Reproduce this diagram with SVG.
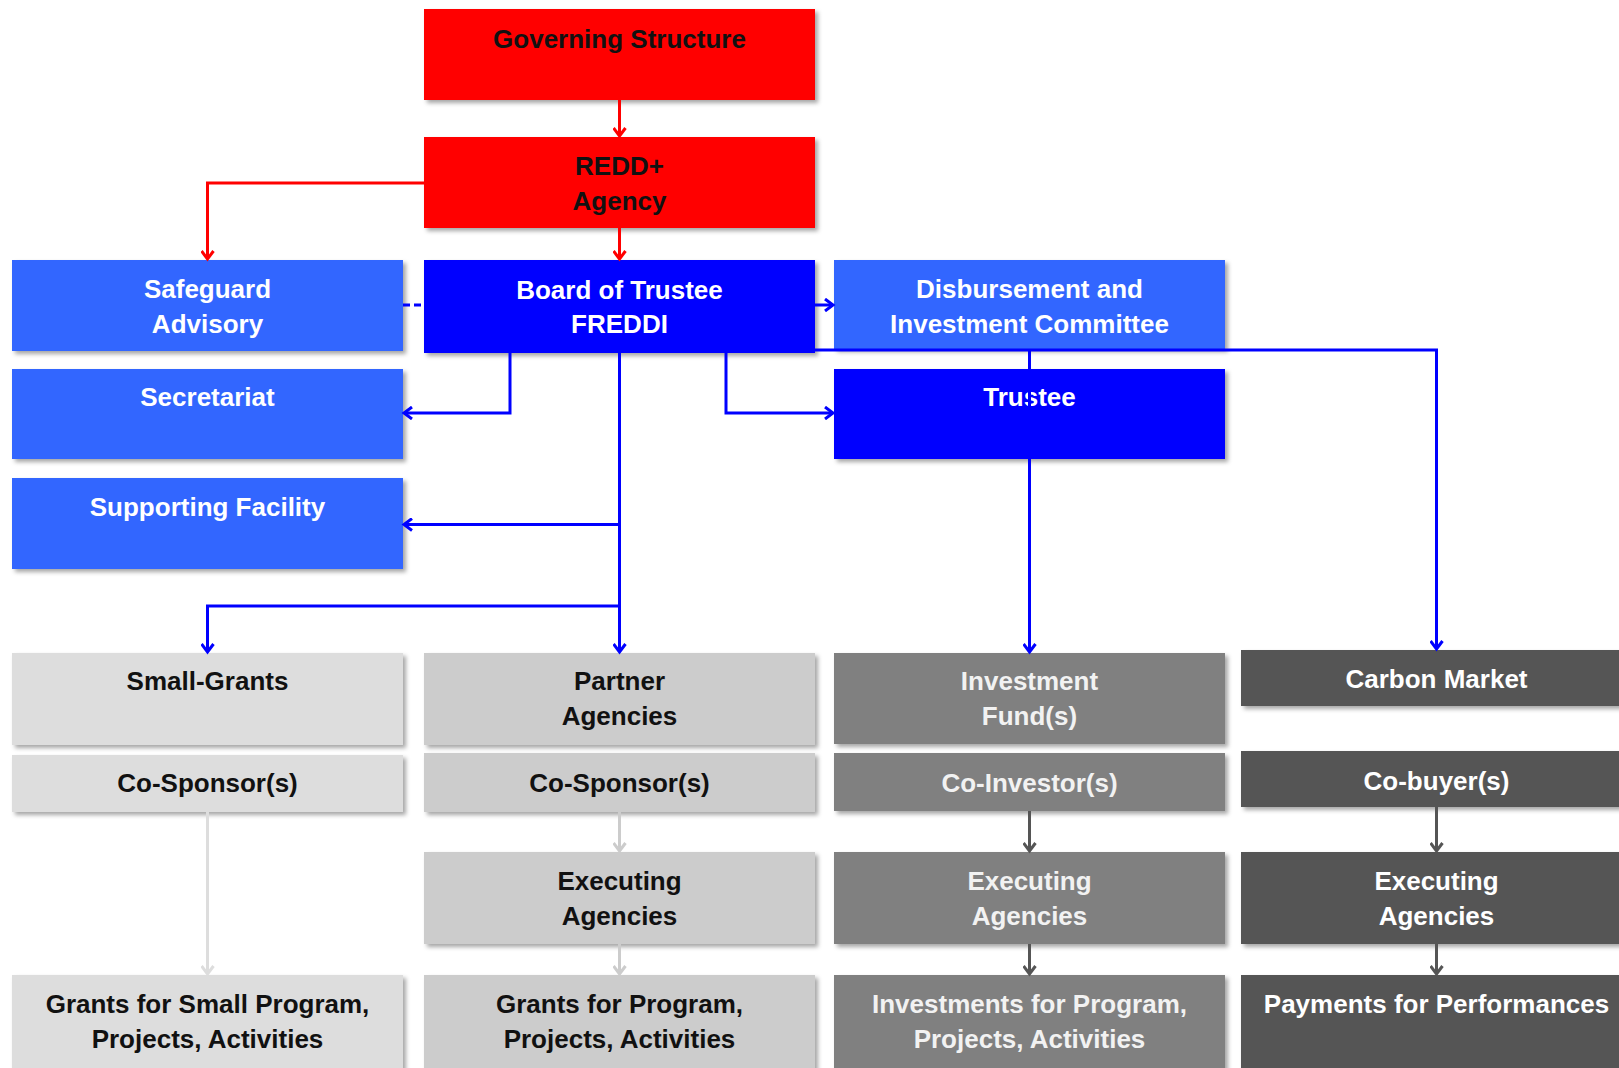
<svg xmlns="http://www.w3.org/2000/svg" width="1619" height="1068" viewBox="0 0 1619 1068">
<style>
  text { font-family: "Liberation Sans", Arial, sans-serif; font-weight: bold; font-size: 26px; text-anchor: middle; }
  .red { fill: #FF0000; }
  .lb { fill: #3366FF; }
  .db { fill: #0000FF; }
  .g1 { fill: #DDDDDD; }
  .g2 { fill: #CCCCCC; }
  .g3 { fill: #808080; }
  .g4 { fill: #555555; }
  .tb { fill: #111111; }
  .tw { fill: #FFFFFF; }
  .tl { fill: #F2F2F2; }
  .c { fill: none; stroke-width: 3; }
  .cr { stroke: #FF0000; marker-end: url(#ar); }
  .cb { stroke: #0000FF; marker-end: url(#ab); }
  .cg1 { stroke: #DDDDDD; marker-end: url(#ag1); }
  .cg2 { stroke: #CCCCCC; marker-end: url(#ag2); }
  .cg4 { stroke: #555555; marker-end: url(#ag4); }
</style>
<defs>
  <filter id="sh" x="-5%" y="-5%" width="115%" height="125%">
    <feDropShadow dx="3" dy="3" stdDeviation="2" flood-color="#000" flood-opacity="0.35"/>
  </filter>
  <marker id="ar" markerUnits="userSpaceOnUse" markerWidth="14" markerHeight="14" refX="10" refY="7" orient="auto"><path d="M2,1 L10,7 L2,13" fill="none" stroke="#FF0000" stroke-width="3"/></marker>
  <marker id="ab" markerUnits="userSpaceOnUse" markerWidth="14" markerHeight="14" refX="10" refY="7" orient="auto"><path d="M2,1 L10,7 L2,13" fill="none" stroke="#0000FF" stroke-width="3"/></marker>
  <marker id="ag1" markerUnits="userSpaceOnUse" markerWidth="14" markerHeight="14" refX="10" refY="7" orient="auto"><path d="M2,1 L10,7 L2,13" fill="none" stroke="#DDDDDD" stroke-width="3"/></marker>
  <marker id="ag2" markerUnits="userSpaceOnUse" markerWidth="14" markerHeight="14" refX="10" refY="7" orient="auto"><path d="M2,1 L10,7 L2,13" fill="none" stroke="#CCCCCC" stroke-width="3"/></marker>
  <marker id="ag4" markerUnits="userSpaceOnUse" markerWidth="14" markerHeight="14" refX="10" refY="7" orient="auto"><path d="M2,1 L10,7 L2,13" fill="none" stroke="#555555" stroke-width="3"/></marker>
</defs>
<rect width="1619" height="1068" fill="#FFFFFF"/>

<g id="governing"><rect class="red" x="424" y="9" width="391" height="91" filter="url(#sh)"/><text class="tb" x="619.5" y="48">Governing Structure</text></g>
<g id="redd"><rect class="red" x="424" y="137" width="391" height="91" filter="url(#sh)"/><text class="tb" x="619.5" y="175">REDD+</text><text class="tb" x="619.5" y="210">Agency</text></g>
<g id="safeguard"><rect class="lb" x="12" y="260" width="391" height="91" filter="url(#sh)"/><text class="tw" x="207.5" y="298">Safeguard</text><text class="tw" x="207.5" y="333">Advisory</text></g>
<g id="board"><rect class="db" x="424" y="260" width="391" height="93" filter="url(#sh)"/><text class="tw" x="619.5" y="299">Board of Trustee</text><text class="tw" x="619.5" y="333">FREDDI</text></g>
<g id="disbursement"><rect class="lb" x="834" y="260" width="391" height="89" filter="url(#sh)"/><text class="tw" x="1029.5" y="298">Disbursement and</text><text class="tw" x="1029.5" y="333">Investment Committee</text></g>
<g id="secretariat"><rect class="lb" x="12" y="369" width="391" height="90" filter="url(#sh)"/><text class="tw" x="207.5" y="406">Secretariat</text></g>
<g id="trustee"><rect class="db" x="834" y="369" width="391" height="90" filter="url(#sh)"/><text class="tw" x="1029.5" y="406">Trustee</text></g>
<g id="supporting"><rect class="lb" x="12" y="478" width="391" height="91" filter="url(#sh)"/><text class="tw" x="207.5" y="516">Supporting Facility</text></g>

<g id="small-grants"><rect class="g1" x="12" y="653" width="391" height="92" filter="url(#sh)"/><text class="tb" x="207.5" y="690">Small-Grants</text></g>
<g id="partner"><rect class="g2" x="424" y="653" width="391" height="92" filter="url(#sh)"/><text class="tb" x="619.5" y="690">Partner</text><text class="tb" x="619.5" y="725">Agencies</text></g>
<g id="investment-fund"><rect class="g3" x="834" y="653" width="391" height="91" filter="url(#sh)"/><text class="tl" x="1029.5" y="690">Investment</text><text class="tl" x="1029.5" y="725">Fund(s)</text></g>
<g id="carbon-market"><rect class="g4" x="1241" y="650" width="391" height="56" filter="url(#sh)"/><text class="tw" x="1436.5" y="688">Carbon Market</text></g>

<g id="cosponsor-1"><rect class="g1" x="12" y="755" width="391" height="57" filter="url(#sh)"/><text class="tb" x="207.5" y="792">Co-Sponsor(s)</text></g>
<g id="cosponsor-2"><rect class="g2" x="424" y="753" width="391" height="59" filter="url(#sh)"/><text class="tb" x="619.5" y="792">Co-Sponsor(s)</text></g>
<g id="coinvestor"><rect class="g3" x="834" y="753" width="391" height="58" filter="url(#sh)"/><text class="tl" x="1029.5" y="792">Co-Investor(s)</text></g>
<g id="cobuyer"><rect class="g4" x="1241" y="751" width="391" height="56" filter="url(#sh)"/><text class="tw" x="1436.5" y="790">Co-buyer(s)</text></g>

<g id="executing-2"><rect class="g2" x="424" y="852" width="391" height="92" filter="url(#sh)"/><text class="tb" x="619.5" y="890">Executing</text><text class="tb" x="619.5" y="925">Agencies</text></g>
<g id="executing-3"><rect class="g3" x="834" y="852" width="391" height="92" filter="url(#sh)"/><text class="tl" x="1029.5" y="890">Executing</text><text class="tl" x="1029.5" y="925">Agencies</text></g>
<g id="executing-4"><rect class="g4" x="1241" y="852" width="391" height="92" filter="url(#sh)"/><text class="tw" x="1436.5" y="890">Executing</text><text class="tw" x="1436.5" y="925">Agencies</text></g>

<g id="grants-small"><rect class="g1" x="12" y="975" width="391" height="95" filter="url(#sh)"/><text class="tb" x="207.5" y="1013">Grants for Small Program,</text><text class="tb" x="207.5" y="1048">Projects, Activities</text></g>
<g id="grants"><rect class="g2" x="424" y="975" width="391" height="95" filter="url(#sh)"/><text class="tb" x="619.5" y="1013">Grants for Program,</text><text class="tb" x="619.5" y="1048">Projects, Activities</text></g>
<g id="investments"><rect class="g3" x="834" y="975" width="391" height="95" filter="url(#sh)"/><text class="tl" x="1029.5" y="1013">Investments for Program,</text><text class="tl" x="1029.5" y="1048">Projects, Activities</text></g>
<g id="payments"><rect class="g4" x="1241" y="975" width="391" height="95" filter="url(#sh)"/><text class="tw" x="1436.5" y="1013">Payments for Performances</text></g>

<g id="connectors">
  <path class="c cr" d="M619.5,100 V136"/>
  <path class="c cr" d="M424,183 H207.5 V259"/>
  <path class="c cr" d="M619.5,228 V259"/>
  <path d="M403,305 H424" fill="none" stroke="#0000FF" stroke-width="3" stroke-dasharray="7,4"/>
  <path class="c cb" d="M815,305 H833"/>
  <path class="c cb" d="M510,353 V413 H404"/>
  <path class="c cb" d="M726,353 V413 H833"/>
  <path class="c cb" d="M619.5,353 V652"/>
  <path class="c cb" d="M619.5,524.5 H404"/>
  <path class="c cb" d="M619.5,606 H207.5 V652"/>
  <path class="c cb" d="M815,350 H1436.5 V649"/>
  <path class="c cb" d="M1029.5,350 V652"/>
  <path class="c cg1" d="M207.5,812 V974"/>
  <path class="c cg2" d="M619.5,812 V851"/>
  <path class="c cg2" d="M619.5,944 V974"/>
  <path class="c cg4" d="M1029.5,811 V851"/>
  <path class="c cg4" d="M1029.5,944 V974"/>
  <path class="c cg4" d="M1436.5,807 V851"/>
  <path class="c cg4" d="M1436.5,944 V974"/>
</g>
</svg>
